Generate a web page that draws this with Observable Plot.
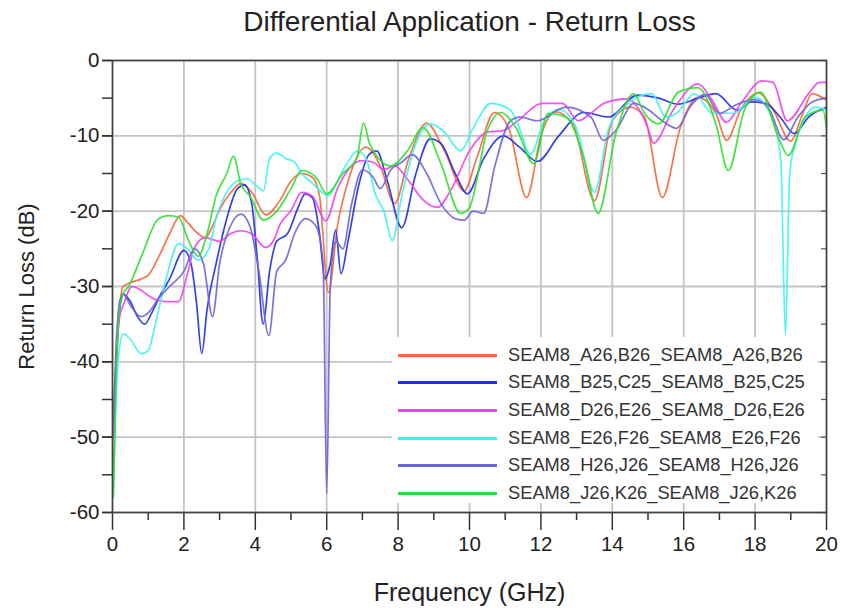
<!DOCTYPE html>
<html>
<head>
<meta charset="utf-8">
<script src="https://cdn.jsdelivr.net/npm/d3@7"></script>
<script src="https://cdn.jsdelivr.net/npm/@observablehq/plot@0.6"></script>
<style>
  body { margin: 0; background: #fff; font-family: "Liberation Sans", Arial, sans-serif; }
  #wrap { position: relative; width: 843px; height: 608px; }
  #legend { position: absolute; left: 392px; top: 337px; width: 426px; height: 166px; background: #fff; }
  .row { position: absolute; left: 0; height: 22px; }
  .sw { position: absolute; left: 6px; top: 10px; width: 99px; height: 3px; }
  .lbl { position: absolute; left: 116px; top: 0; font-size: 18.3px; line-height: 22px; color: #333; white-space: nowrap; }
</style>
</head>
<body>
<div id="wrap"></div>
<script>
// ---- series names and colors ----
const seriesNames = [
  "SEAM8_A26,B26_SEAM8_A26,B26",
  "SEAM8_B25,C25_SEAM8_B25,C25",
  "SEAM8_D26,E26_SEAM8_D26,E26",
  "SEAM8_E26,F26_SEAM8_E26,F26",
  "SEAM8_H26,J26_SEAM8_H26,J26",
  "SEAM8_J26,K26_SEAM8_J26,K26"
];
const seriesColors = ["#f4663c", "#1f2ee0", "#f03ef0", "#3ef2f2", "#6f63d8", "#2ee02e"];

// ---- values (GHz, dB) ----
const freqA26 = [0.02,0.1,0.2,0.3,0.5,0.8,1.0,1.3,1.6,1.9,2.1,2.4,2.6,2.8,3.0,3.3,3.6,3.9,4.3,4.7,5.0,5.3,5.6,5.8,6.05,6.3,6.6,7.1,7.5,7.9,8.3,8.8,9.3,9.85,10.2,10.7,11.1,11.6,12.0,12.4,12.9,13.5,14.0,14.5,14.9,15.4,15.9,16.4,16.9,17.2,17.6,18.1,18.5,19.0,19.3,19.6,20];
const lossA26 = [-55,-42,-33,-30,-29.5,-29,-28.5,-26,-23,-20.6,-21.5,-23,-23.5,-22,-19.8,-17.6,-16.3,-17.5,-20.5,-18.5,-16,-15,-15.5,-18,-30.8,-22,-16,-11.5,-14,-19,-13,-8.3,-12,-17.3,-13,-6.9,-9,-18.2,-10,-6.8,-8.5,-18.6,-8,-6.2,-7.5,-18.2,-9,-4.9,-7,-10.6,-6.5,-4.3,-6.5,-10.7,-7.5,-4.4,-5.3];

const freqB25 = [0.02,0.1,0.2,0.3,0.5,0.7,0.9,1.1,1.3,1.6,2.0,2.2,2.35,2.5,2.65,2.9,3.2,3.5,3.7,3.9,4.05,4.22,4.4,4.6,4.9,5.2,5.4,5.6,5.8,5.95,6.1,6.25,6.4,6.6,6.9,7.2,7.4,7.7,8.1,8.5,8.9,9.2,9.6,9.94,10.4,10.95,11.4,11.9,12.5,13.2,13.9,14.7,15.3,15.85,16.4,16.9,17.5,17.9,18.3,18.7,19.1,19.5,20];
const lossB25 = [-50,-40,-33,-31,-32,-34,-35,-33.5,-31.5,-29,-25.2,-27,-32,-38.9,-33,-27,-21,-17,-16.5,-19,-26,-35,-28,-24,-23,-19.5,-17.7,-18.2,-23,-29,-27,-22.5,-28.3,-23.9,-16.5,-12.4,-12,-16,-22.2,-15,-10.4,-11,-15,-17.7,-13,-10,-11.5,-13.4,-10,-6.9,-7.5,-4.6,-5,-5.8,-5,-4.4,-6.6,-5.5,-5.7,-7.5,-9.7,-7.5,-6.2];

const freqD26 = [0.02,0.1,0.2,0.3,0.55,0.8,1.1,1.5,1.85,2.1,2.3,2.6,3.0,3.3,3.6,3.9,4.28,4.5,4.7,5.0,5.3,5.6,5.97,6.3,6.7,7.0,7.3,7.6,7.9,8.3,8.7,9.1,9.5,10.0,10.5,10.95,11.3,12.05,12.6,13.05,13.4,13.8,14.4,15.0,15.15,15.7,16.4,16.8,17.2,17.6,18.2,18.5,18.9,19.5,19.8,20];
const lossD26 = [-50,-40,-34,-32.5,-30,-30.5,-31.5,-32,-32,-28.3,-24.8,-23.5,-24,-23,-22.6,-23,-24.8,-24,-21.7,-19.9,-17.5,-18,-21.3,-17,-14,-13.3,-13.5,-14.5,-14,-16,-18.5,-19.5,-17,-12,-9.5,-9.3,-8.2,-5.7,-5.7,-8,-7,-5.6,-5.1,-9,-11,-6.6,-3.1,-5.3,-8.2,-5.7,-2.7,-2.9,-8,-4.4,-2.9,-2.9];

const freqE26 = [0.02,0.1,0.2,0.3,0.5,0.8,1.0,1.2,1.5,1.85,2.1,2.4,2.7,2.9,3.2,3.5,3.78,4.0,4.23,4.4,4.6,4.85,5.1,5.3,5.6,6.02,6.5,6.86,7.1,7.36,7.6,7.84,8.1,8.5,8.9,9.3,9.75,10.1,10.6,11.15,11.4,11.7,12.1,12.5,13.0,13.5,13.9,14.5,15.1,15.5,15.8,16.3,16.8,17.4,18.0,18.5,18.72,18.85,18.97,19.13,19.7,20];
const lossE26 = [-58,-45,-38,-36.3,-37,-38.9,-38.5,-35,-29,-24.3,-25,-26.5,-25,-21,-17.5,-16,-15.7,-16.5,-17.3,-13,-12.3,-13,-13.5,-15,-16.3,-17.9,-14.2,-12,-13,-17.7,-20,-23.9,-18,-11,-8.4,-9.5,-12,-9,-5.7,-6.6,-9,-12.5,-8,-6.5,-9,-17.5,-9,-5.5,-4.4,-7.5,-7,-4.4,-7,-7,-4.9,-8,-13.3,-36.5,-15,-11,-6.2,-6.6];

const freqH26 = [0.02,0.1,0.2,0.3,0.5,0.8,1.0,1.3,1.6,2.0,2.3,2.55,2.8,3.0,3.3,3.6,3.85,4.1,4.38,4.6,4.85,5.1,5.4,5.7,5.9,6.0,6.1,6.25,6.45,6.7,7.0,7.3,7.5,7.8,8.1,8.4,8.8,9.2,9.6,9.85,10.1,10.4,10.7,11.15,11.4,11.9,12.7,13.4,13.75,14.1,14.6,15.0,15.4,15.8,16.2,16.6,17.0,17.5,18.0,18.4,18.8,19.2,19.6,20];
const lossH26 = [-48,-38,-32,-31,-32.5,-34,-33.5,-31.5,-30,-28,-25,-27,-34,-27,-22,-20.4,-22,-28,-36.5,-28,-26.5,-23,-21,-22,-27,-57.5,-30,-24,-25,-19,-14.5,-15.5,-17,-14.5,-13.5,-12.5,-15,-19,-21,-21.2,-20,-20.3,-14.2,-8,-7.5,-8,-6.2,-7.5,-10.6,-9.3,-5.7,-6.5,-8,-9,-6,-4.5,-7,-5.8,-5.2,-6.5,-10.5,-7.5,-5.5,-5];

const freqJ26 = [0.02,0.1,0.2,0.3,0.45,0.81,1.29,1.57,1.85,2.13,2.4,2.65,2.9,3.2,3.39,3.6,3.85,4.23,4.6,5.0,5.3,5.7,6.0,6.45,6.85,7.03,7.2,7.8,8.26,8.7,9.2,9.75,10.0,10.5,10.87,11.3,11.8,12.2,12.7,13.2,13.6,14.1,14.6,14.9,15.3,15.85,16.4,16.9,17.25,17.7,18.15,18.65,18.93,19.4,19.9,20];
const lossJ26 = [-58,-42,-33,-31,-30,-26,-21,-20.6,-20.8,-23.9,-26,-23,-18,-15,-12.7,-16.5,-18,-21.2,-20,-17,-14.6,-15.5,-17.7,-15,-12.9,-8.3,-11,-14,-12,-8.9,-13.7,-20.3,-19.5,-9.3,-6.9,-8.9,-13.7,-7,-7.5,-12.9,-20.3,-9.7,-4.4,-7,-8.4,-4.2,-3.6,-8.4,-14.6,-6.6,-4.2,-10.2,-12.6,-7.5,-6.6,-9];

// ---- tick values ----
const xMajorTicks = [0,2,4,6,8,10,12,14,16,18,20];
const xMinorTicks = [1,3,5,7,9,11,13,15,17,19];
const yMajorTicks = [-60,-50,-40,-30,-20,-10,0];
const yAllTicks = [-60,-55,-50,-45,-40,-35,-30,-25,-20,-15,-10,-5,0];

const freqs = [freqA26, freqB25, freqD26, freqE26, freqH26, freqJ26];
const losses = [lossA26, lossB25, lossD26, lossE26, lossH26, lossJ26];
const rows = [];
seriesNames.forEach((name, i) => {
  freqs[i].forEach((f, j) => rows.push({series: name, f, db: losses[i][j]}));
});

const font = "'Liberation Sans', Arial, sans-serif";
const chart = Plot.plot({
  width: 843,
  height: 608,
  marginTop: 60,
  marginBottom: 96,
  marginLeft: 112,
  marginRight: 17,
  style: {fontFamily: font, fontSize: "20px", color: "#222", background: "#fff", overflow: "visible"},
  x: {domain: [0, 20]},
  y: {domain: [-60, 0]},
  color: {domain: seriesNames, range: seriesColors},
  marks: [
    Plot.gridX(xMajorTicks, {stroke: "#c4c4c4", strokeOpacity: 1, strokeWidth: 1.8}),
    Plot.gridY(yMajorTicks, {stroke: "#c4c4c4", strokeOpacity: 1, strokeWidth: 1.8}),
    Plot.axisX(xMajorTicks, {tickSize: 18, tickPadding: 6, fontSize: 20.5, tickFormat: d => String(d), label: null, stroke: "#333", strokeWidth: 1.5}),
    Plot.axisX(xMinorTicks, {tickSize: 8, tickFormat: () => "", label: null, stroke: "#333", strokeWidth: 1.5}),
    Plot.axisY(yMajorTicks, {tickSize: 10, tickPadding: 3, fontSize: 20.5, tickFormat: d => String(d), label: null, stroke: "#333", strokeWidth: 1.5}),
    Plot.axisY(yAllTicks, {tickSize: 10, tickFormat: () => "", label: null, stroke: "#333", strokeWidth: 1.5}),
    Plot.axisY(yAllTicks, {anchor: "right", tickSize: -6, tickFormat: () => "", label: null, stroke: "#555", strokeWidth: 1.2}),
    Plot.line(rows, {x: "f", y: "db", stroke: "series", curve: "monotone-x", strokeWidth: 1.7, strokeOpacity: 0.9}),
    Plot.frame({stroke: "#444", strokeWidth: 1.6}),
    Plot.text(["Differential Application - Return Loss"], {frameAnchor: "top", lineAnchor: "middle", dy: -38, fontSize: 28, fill: "#222"}),
    Plot.text(["Frequency (GHz)"], {frameAnchor: "bottom", lineAnchor: "middle", dy: 80, fontSize: 25, fill: "#222"}),
    Plot.text(["Return Loss (dB)"], {frameAnchor: "left", textAnchor: "middle", lineAnchor: "middle", dx: -86, rotate: -90, fontSize: 22, fill: "#222"})
  ]
});
const wrap = document.getElementById("wrap");
wrap.appendChild(chart);

// legend
const legend = document.createElement("div");
legend.id = "legend";
const rowTops = [0, 27, 55, 83, 110, 138];
seriesNames.forEach((name, i) => {
  const r = document.createElement("div");
  r.className = "row";
  r.style.top = (7 + rowTops[i]) + "px";
  const sw = document.createElement("div");
  sw.className = "sw";
  sw.style.background = seriesColors[i];
  const lb = document.createElement("div");
  lb.className = "lbl";
  lb.textContent = name;
  r.appendChild(sw); r.appendChild(lb);
  legend.appendChild(r);
});
wrap.appendChild(legend);
</script>
</body>
</html>
